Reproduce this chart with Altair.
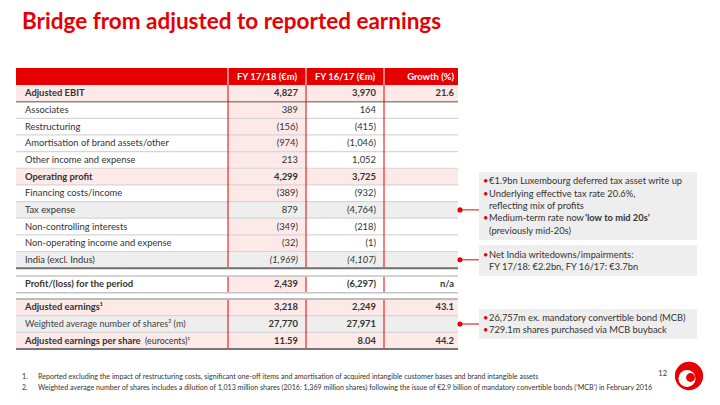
import altair as alt
import pandas as pd

# ---------------- data ----------------
title = "Bridge from adjusted to reported earnings"
col_headers = ["FY 17/18 (€m)", "FY 16/17 (€m)", "Growth (%)"]
labels = [
    "Adjusted EBIT", "Associates", "Restructuring", "Amortisation of brand assets/other",
    "Other income and expense", "Operating profit", "Financing costs/income", "Tax expense",
    "Non-controlling interests", "Non-operating income and expense", "India (excl. Indus)",
    "Profit/(loss) for the period", "Adjusted earnings¹",
    "Weighted average number of shares² (m)", "Adjusted earnings per share",
]
eps_suffix = "(eurocents)¹"
fy1718 = ["4,827", "389", "(156)", "(974)", "213", "4,299", "(389)", "879", "(349)", "(32)",
          "(1,969)", "2,439", "3,218", "27,770", "11.59"]
fy1617 = ["3,970", "164", "(415)", "(1,046)", "1,052", "3,725", "(932)", "(4,764)", "(218)", "(1)",
          "(4,107)", "(6,297)", "2,249", "27,971", "8.04"]
growth = ["21.6", "", "", "", "", "", "", "", "", "", "", "n/a", "43.1", "", "44.2"]

bold_label_rows = [0, 5, 11, 12, 14]
bold_value_rows = [0, 5, 11, 12, 13, 14]
italic_value_rows = [10]
pink_rows = [0, 5, 12, 14]
grey_rows = [7, 10, 13]

callout_rows = [7, 10, 13]
callout_lines = [
    [("•", "€1.9bn Luxembourg deferred tax asset write up", ""),
     ("•", "Underlying effective tax rate 20.6%,", ""),
     ("", "reflecting mix of profits", ""),
     ("•", "Medium-term rate now ", "‘low to mid 20s’"),
     ("", "(previously mid-20s)", "")],
    [("•", "Net India writedowns/impairments:", ""),
     ("", "FY 17/18: €2.2bn, FY 16/17: €3.7bn", "")],
    [("•", "26,757m ex. mandatory convertible bond (MCB)", ""),
     ("•", "729.1m shares purchased via MCB buyback", "")],
]
footnotes = [
    ("1.", "Reported excluding the impact of restructuring costs, significant one-off items and amortisation of acquired intangible customer bases and brand intangible assets"),
    ("2.", "Weighted average number of shares includes a dilution of 1,013 million shares (2016: 1,369 million shares) following the issue of €2.9 billion of mandatory convertible bonds (‘MCB’) in February 2016"),
]
page_number = "12"

# ---------------- style / layout ----------------
FONT = "Lato"
RED = "#e60000"
PINK = "#fdeae8"
GREY = "#eeeeee"
TXT = "#333333"
LIGHT_LINE = "#d6d6d6"
DARK_LINE = "#8a8a8a"

TL, TR = 16, 458
COLS = [228, 306, 384]
HEAD_TOP, HEAD_BOT = 68, 85
RH = 16.65
tops, bots = [], []
for i in range(11):
    tops.append(HEAD_BOT + i * RH)
    bots.append(HEAD_BOT + (i + 1) * RH)
tops.append(276.0); bots.append(292.7)
for i in range(3):
    tops.append(299.0 + i * 16.67)
    bots.append(299.0 + (i + 1) * 16.67)
mids = [(a + b) / 2 for a, b in zip(tops, bots)]

VAL_RIGHT = [298, 376, 454]
FS = 9.4

# ---------------- rectangles ----------------
rects = [dict(x=TL, x2=TR, y=HEAD_TOP, y2=HEAD_BOT, fill=RED)]
for i in range(len(labels)):
    if i in pink_rows:
        rects.append(dict(x=TL, x2=TR, y=tops[i], y2=bots[i], fill=PINK))
    elif i in grey_rows:
        rects.append(dict(x=TL, x2=TR, y=tops[i], y2=bots[i], fill=GREY))
    else:
        rects.append(dict(x=COLS[0], x2=COLS[1], y=tops[i], y2=bots[i], fill=PINK))
BOX_L, BOX_R = 479, 697
box_spans = [(172, 240), (245, 276), (309, 339)]
for (a, b) in box_spans:
    rects.append(dict(x=BOX_L, x2=BOX_R, y=a, y2=b, fill=GREY))
rects_df = pd.DataFrame(rects)

# ---------------- rules ----------------
rules = []
def hline(y, color, w, x0=TL, x1=TR):
    rules.append(dict(x=x0, x2=x1, y=y, y2=y, color=color, w=w))
def vline(x, y0, y1, color, w):
    rules.append(dict(x=x, x2=x, y=y0, y2=y1, color=color, w=w))

for i in range(len(labels)):
    if i == 0:
        hline(bots[i], DARK_LINE, 1.5)
    elif i == 10:
        hline(bots[i], "#6f6f6f", 2)
    elif i == 11:
        hline(tops[i], "#c4c4c4", 1.5)
        hline(bots[i], "#c4c4c4", 1.5)
    elif i == 12:
        hline(tops[i], "#a8a8a8", 1.5)
        hline(bots[i], LIGHT_LINE, 1.2)
    elif i == 14:
        hline(bots[i], "#777777", 2)
    else:
        hline(bots[i], LIGHT_LINE, 1.2)
for cx in COLS:
    vline(cx, HEAD_TOP, HEAD_BOT, "#ffffff", 1)
    vline(cx, HEAD_BOT, bots[10] - 1, RED, 1)
    vline(cx, tops[11] + 0.8, bots[11] - 0.8, RED, 1)
    vline(cx, tops[12] + 0.8, bots[14] - 1, RED, 1)
DOT_X = 460
for r in callout_rows:
    rules.append(dict(x=DOT_X, x2=BOX_L, y=mids[r], y2=mids[r], color=RED, w=1))
rules_df = pd.DataFrame(rules)

# ---------------- circles (connector dots + logo) ----------------
LOGO_X, LOGO_Y = 689, 376
circles = [dict(x=DOT_X, y=mids[r], color=RED, s=26) for r in callout_rows]
circles += [
    dict(x=LOGO_X, y=LOGO_Y, color=RED, s=800),
    dict(x=LOGO_X - 2, y=LOGO_Y + 2.5, color="#ffffff", s=290),
    dict(x=LOGO_X + 1.5, y=LOGO_Y + 1.5, color=RED, s=78),
]
circles_df = pd.DataFrame(circles)

# ---------------- texts ----------------
T = {k: [] for k in ["L", "Lb", "Cb", "R", "Rb", "Ri"]}
def put(kind, x, y, text, color=TXT, size=FS):
    T[kind].append(dict(x=x, y=y, text=text, color=color, size=size))

put("Lb", 22, 22, title, RED, 22.5)
put("Cb", (COLS[0] + COLS[1]) / 2, (HEAD_TOP + HEAD_BOT) / 2, col_headers[0], "#ffffff", FS)
put("Cb", (COLS[1] + COLS[2]) / 2, (HEAD_TOP + HEAD_BOT) / 2, col_headers[1], "#ffffff", FS)
put("Rb", VAL_RIGHT[2], (HEAD_TOP + HEAD_BOT) / 2, col_headers[2], "#ffffff", FS)

for i, lab in enumerate(labels):
    kind = "Lb" if i in bold_label_rows else "L"
    put(kind, 25, mids[i], lab, "#444444" if i == 13 else TXT, FS - 0.3 if i == 13 else FS)
    vk = "Rb" if i in bold_value_rows else ("Ri" if i in italic_value_rows else "R")
    for j, v in enumerate([fy1718[i], fy1617[i], growth[i]]):
        if v:
            put(vk if j < 2 else "Rb", VAL_RIGHT[j], mids[i], v)
put("L", 145, mids[14], eps_suffix, TXT, FS - 0.6)

line_ys = [[181, 194, 206, 218, 231], [255, 267], [318, 330]]
bold_offsets = {(0, 3): 585}
for b, lines in enumerate(callout_lines):
    for k, (bul, normal, bold) in enumerate(lines):
        y = line_ys[b][k]
        if bul:
            put("L", 483, y, bul, RED, FS)
        put("L", 489, y, normal, TXT, 9.3)
        if bold:
            put("Lb", bold_offsets[(b, k)], y, bold, TXT, 9.3)

for k, (num, txt) in enumerate(footnotes):
    put("L", 22, 377 + k * 11, num, TXT, 7.1)
    put("L", 38, 377 + k * 11, txt, TXT, 7.1)
put("R", 667, 374, page_number, TXT, 7.5)

# ---------------- chart ----------------
XS = alt.Scale(domain=[8, 712], nice=False, zero=False)
YS = alt.Scale(domain=[8, 397], nice=False, zero=False, reverse=True)
X = alt.X("x:Q", scale=XS, axis=None)
Y = alt.Y("y:Q", scale=YS, axis=None)

rect_layer = alt.Chart(rects_df).mark_rect().encode(
    x=X, x2="x2:Q", y=Y, y2="y2:Q", fill=alt.Fill("fill:N", scale=None))
rule_layer = alt.Chart(rules_df).mark_rule().encode(
    x=X, x2="x2:Q", y=Y, y2="y2:Q", color=alt.Color("color:N", scale=None),
    strokeWidth=alt.StrokeWidth("w:Q", scale=None))
circle_layer = alt.Chart(circles_df).mark_circle(opacity=1).encode(
    x=X, y=Y, color=alt.Color("color:N", scale=None), size=alt.Size("s:Q", scale=None))

align_map = {"L": ("left", "normal", "normal"), "Lb": ("left", "bold", "normal"),
             "Cb": ("center", "bold", "normal"), "R": ("right", "normal", "normal"),
             "Rb": ("right", "bold", "normal"), "Ri": ("right", "normal", "italic")}
text_layers = []
for kind, rows in T.items():
    if not rows:
        continue
    al, wt, st = align_map[kind]
    text_layers.append(
        alt.Chart(pd.DataFrame(rows)).mark_text(
            align=al, baseline="middle", font=FONT, fontWeight=wt, fontStyle=st
        ).encode(x=X, y=Y, text="text:N", color=alt.Color("color:N", scale=None),
                 size=alt.Size("size:Q", scale=None))
    )

chart = alt.layer(rect_layer, rule_layer, circle_layer, *text_layers).properties(
    width=704, height=389, padding=0, autosize=alt.AutoSizeParams(type="none"),
    background="#ffffff"
).configure_view(stroke=None)

chart.save("out.html", embed_options={"renderer": "svg", "actions": False})
